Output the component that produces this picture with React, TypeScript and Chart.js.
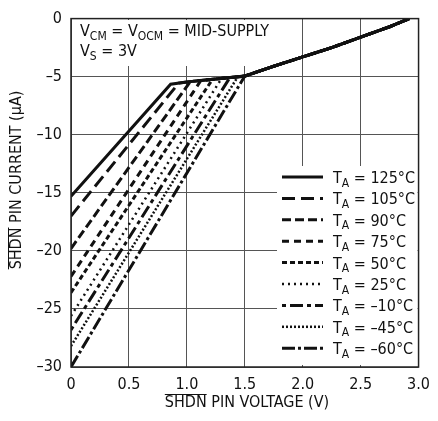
import React, { useEffect, useRef } from "react";
import { Chart, registerables } from "chart.js";

Chart.register(...registerables);

const seriesLabels = ["125°C", "105°C", "90°C", "75°C", "50°C", "25°C", "–10°C", "–45°C", "–60°C"];
const startCurrent = [-15.3, -17.0, -19.8, -22.2, -23.6, -25.6, -26.8, -28.2, -30.0];
const kneeVoltage = [0.86, 0.93, 1.03, 1.12, 1.22, 1.3, 1.37, 1.44, 1.5];
const kneeCurrent = [-5.65, -5.55, -5.42, -5.35, -5.25, -5.15, -5.1, -5.0, -4.95];
const commonVoltage = [1.0, 1.25, 1.5, 1.75, 2.0, 2.25, 2.5, 2.75, 2.92];
const commonCurrent = [-5.45, -5.2, -4.95, -4.1, -3.3, -2.5, -1.6, -0.7, 0];
const xTicks = [0, 0.5, 1.0, 1.5, 2.0, 2.5, 3.0];
const yTicks = [0, -5, -10, -15, -20, -25, -30];

const dashes: number[][] = [
  [],
  [13, 6],
  [9, 4],
  [7, 5],
  [5, 3],
  [2, 4],
  [4, 4, 13, 4],
  [2, 2],
  [13, 3, 3, 3],
];
const widths = [3, 3, 3, 3, 3, 2.5, 3, 2.5, 3];

const FONT = '"Liberation Sans Narrow", "DejaVu Sans Condensed", "Roboto Condensed", sans-serif';

function buildData(i: number) {
  const pts = [{ x: 0, y: startCurrent[i] }, { x: kneeVoltage[i], y: kneeCurrent[i] }];
  commonVoltage.forEach((v, j) => {
    if (v > kneeVoltage[i] + 0.02) pts.push({ x: v, y: commonCurrent[j] });
  });
  return pts;
}

function drawSubText(ctx: CanvasRenderingContext2D, x: number, y: number, parts: [string, boolean][], size: number) {
  let cx = x;
  for (const [t, sub] of parts) {
    ctx.font = `${sub ? Math.round(size * 0.72) : size}px ${FONT}`;
    ctx.fillText(t, cx, sub ? y + size * 0.22 : y);
    cx += ctx.measureText(t).width;
  }
}

const overlayPlugin = {
  id: "overlay",
  beforeDatasetsDraw(chart: any) {
    const ctx: CanvasRenderingContext2D = chart.ctx;
    const a = chart.chartArea;
    ctx.save();
    ctx.fillStyle = "#fff";
    ctx.fillRect(a.left + 1, 20, 218, 46);
    ctx.fillRect(277, 166, a.right - 278, 199);
    ctx.restore();
  },
  afterDraw(chart: any) {
    const ctx: CanvasRenderingContext2D = chart.ctx;
    const a = chart.chartArea;
    ctx.save();
    ctx.fillStyle = "#111";
    ctx.textBaseline = "alphabetic";
    ctx.textAlign = "left";
    drawSubText(ctx, 80, 36, [["V", false], ["CM", true], [" = V", false], ["OCM", true], [" = MID-SUPPLY", false]], 16);
    drawSubText(ctx, 80, 56, [["V", false], ["S", true], [" = 3V", false]], 16);

    for (let i = 0; i < seriesLabels.length; i++) {
      const y = 177 + i * 21.4;
      ctx.save();
      ctx.strokeStyle = "#111";
      ctx.lineWidth = widths[i];
      ctx.setLineDash(dashes[i]);
      ctx.beginPath();
      ctx.moveTo(282, y);
      ctx.lineTo(323, y);
      ctx.stroke();
      ctx.restore();
      ctx.fillStyle = "#111";
      drawSubText(ctx, 333, y + 6, [["T", false], ["A", true], [" = " + seriesLabels[i], false]], 16);
    }

    // x title
    ctx.fillStyle = "#111";
    ctx.font = `16px ${FONT}`;
    const xt = "SHDN PIN VOLTAGE (V)";
    const xw = ctx.measureText(xt).width;
    const xs = 247 - xw / 2;
    ctx.textAlign = "left";
    ctx.fillText(xt, xs, 407);
    const sw = ctx.measureText("SHDN").width;
    ctx.strokeStyle = "#111";
    ctx.lineWidth = 1;
    ctx.beginPath();
    ctx.moveTo(xs, 394.5);
    ctx.lineTo(xs + sw, 394.5);
    ctx.stroke();

    // y title
    ctx.save();
    ctx.translate(21, 180);
    ctx.rotate(-Math.PI / 2);
    const yt = "SHDN PIN CURRENT (µA)";
    const yw = ctx.measureText(yt).width;
    ctx.fillText(yt, -yw / 2, 0);
    ctx.beginPath();
    ctx.moveTo(-yw / 2, -12.5);
    ctx.lineTo(-yw / 2 + sw, -12.5);
    ctx.stroke();
    ctx.restore();

    // border
    ctx.strokeStyle = "#222";
    ctx.lineWidth = 1.5;
    ctx.strokeRect(a.left, a.top, a.right - a.left, a.bottom - a.top);
    ctx.restore();
  },
};

export default function App() {
  const ref = useRef<HTMLCanvasElement | null>(null);
  useEffect(() => {
    if (!ref.current) return;
    const chart = new Chart(ref.current, {
      type: "line",
      data: {
        datasets: seriesLabels.map((l, i) => ({
          label: l,
          data: buildData(i),
          borderColor: "#111",
          borderWidth: widths[i],
          borderDash: dashes[i],
          pointRadius: 0,
          tension: 0,
          fill: false,
        })),
      },
      options: {
        animation: false,
        responsive: true,
        maintainAspectRatio: false,
        layout: { padding: { top: 14, right: 14, left: 0, bottom: 0 } },
        plugins: { legend: { display: false }, tooltip: { enabled: false } },
        scales: {
          x: {
            type: "linear",
            min: 0,
            max: 3,
            afterBuildTicks: (s: any) => {
              s.ticks = xTicks.map((v) => ({ value: v }));
            },
            afterFit: (s: any) => {
              s.height = 54;
            },
            grid: { color: "#555", lineWidth: 1, drawTicks: false },
            border: { display: false },
            ticks: {
              padding: 8,
              color: "#111",
              font: { family: FONT, size: 16 },
              callback: (v: any) => (v === 0 ? "0" : Number(v).toFixed(1)),
            },
          },
          y: {
            type: "linear",
            min: -30,
            max: 0,
            afterBuildTicks: (s: any) => {
              s.ticks = yTicks.map((v) => ({ value: v }));
            },
            afterFit: (s: any) => {
              s.width = 71;
            },
            grid: { color: "#555", lineWidth: 1, drawTicks: false },
            border: { display: false },
            ticks: {
              padding: 9,
              color: "#111",
              font: { family: FONT, size: 16 },
              callback: (v: any) => String(v).replace("-", "–"),
            },
          },
        },
      },
      plugins: [overlayPlugin],
    } as any);
    return () => chart.destroy();
  }, []);
  return (
    <div style={{ position: "fixed", left: 0, top: 0, width: 438, height: 421, background: "#fff" }}>
      <canvas ref={ref} />
    </div>
  );
}
